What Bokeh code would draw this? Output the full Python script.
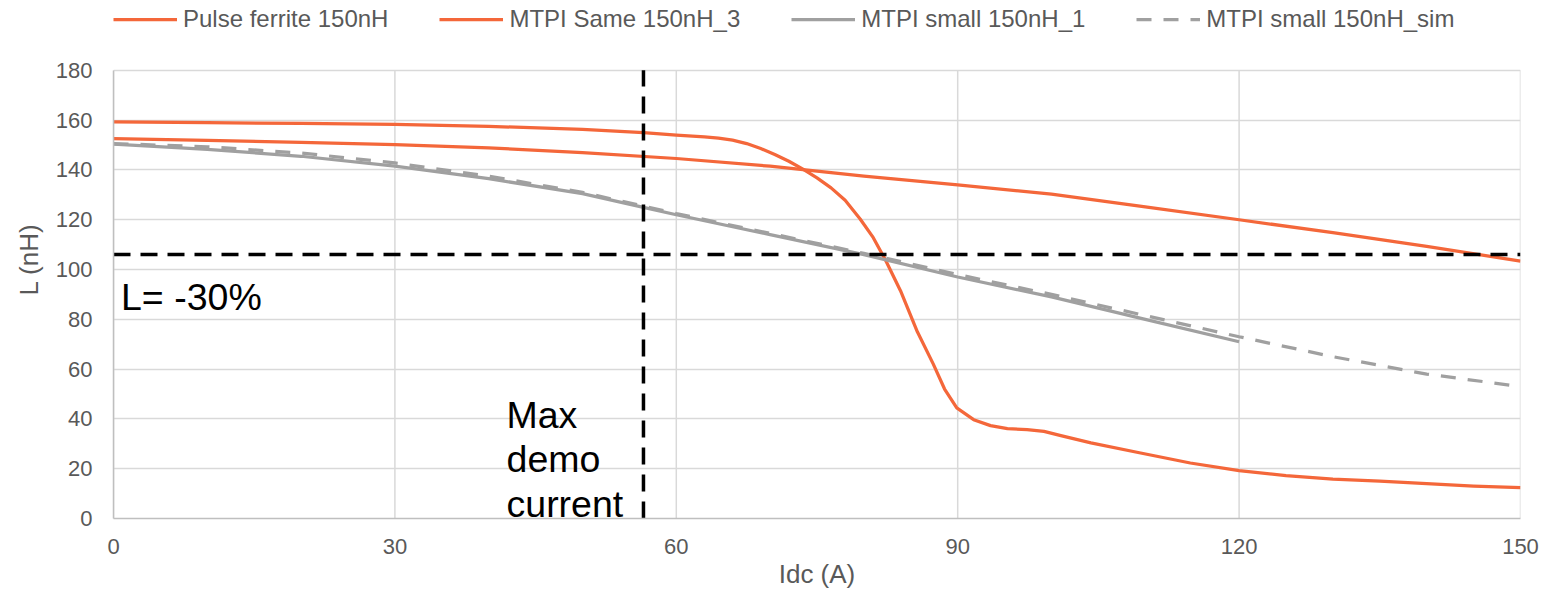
from bokeh.plotting import figure
from bokeh.models import Range1d, FixedTicker, Legend, LegendItem, Label
from bokeh.embed import file_html
from bokeh.resources import INLINE

# ---- data ----
pulse_x = [0, 10, 20, 30, 40, 50, 56.5, 60, 63, 64.5, 66, 67.5, 69, 70.5, 72, 73.5, 75, 76.5,
           78, 79.6, 81, 82.3, 83.9, 85.7, 87.4, 88.6, 89.9, 91.7, 93.5, 95.3, 97.4, 99.2,
           101, 104.2, 109.5, 114.8, 120, 125, 130, 135, 140, 145, 150]
pulse_y = [159.3, 159.0, 158.7, 158.3, 157.5, 156.3, 155.0, 154.0, 153.3, 152.8, 152.0, 150.6,
           148.6, 146.2, 143.5, 140.3, 136.8, 132.8, 127.8, 120.3, 112.8, 103.8, 91.5, 75.0,
           62.0, 52.0, 44.4, 39.7, 37.3, 36.1, 35.7, 35.0, 33.3, 30.4, 26.3, 22.3, 19.2, 17.2,
           15.8, 15.0, 14.0, 13.0, 12.4]

same_x = [0, 10, 20, 30, 40, 50, 60, 70, 80, 90, 100, 110, 120, 130, 140, 150]
same_y = [152.6, 151.9, 151.1, 150.2, 148.9, 147.0, 144.6, 141.5, 137.5, 134.0, 130.3,
          125.2, 120.0, 114.8, 109.3, 103.4]

small1_x = [0, 10, 20, 30, 40, 50, 56.5, 60, 70, 80, 90, 100, 110, 120]
small1_y = [150.4, 148.3, 145.5, 141.5, 136.5, 130.5, 125.0, 122.0, 114.0, 106.0, 97.0,
            89.0, 80.0, 71.0]

sim_x = [0, 10, 20, 30, 40, 50, 60, 70, 80, 90, 100, 110, 120, 130, 140, 150]
sim_y = [150.6, 149.3, 146.8, 142.8, 137.5, 131.0, 122.5, 114.5, 106.5, 98.0, 90.0, 81.5,
         73.0, 65.0, 58.0, 53.0]

demo_x = [56.5, 56.5]
demo_y = [0, 180]
limit_x = [0, 150]
limit_y = [106, 106]

x_ticks = [0, 30, 60, 90, 120, 150]
y_ticks = [0, 20, 40, 60, 80, 100, 120, 140, 160, 180]
Y_MIN, Y_MAX = 0, 180

ORANGE = "#F4673A"
GRAY = "#A0A0A0"
TXT = "#595959"
GRID = "#D9D9D9"
FONT = "Liberation Sans"

# plot area is 449 px tall for 0..180; the frame is extended upward to hold the legend
FRAME_H = 519
AREA_H = 449
y_top = Y_MAX * FRAME_H / AREA_H

p = figure(width=1557, height=591, output_backend="svg", toolbar_location=None, title=None,
           x_range=Range1d(0, 150), y_range=Range1d(Y_MIN, y_top),
           min_border_left=113, min_border_right=37, min_border_top=0, min_border_bottom=72)
p.outline_line_color = None
p.background_fill_color = "white"
p.border_fill_color = "white"

for ax in (p.xaxis[0], p.yaxis[0]):
    ax.major_tick_in = 0
    ax.major_tick_out = 0
    ax.minor_tick_in = 0
    ax.minor_tick_out = 0
    ax.axis_line_color = "#BFBFBF"
    ax.axis_line_width = 1.5
    ax.major_label_text_font = FONT
    ax.major_label_text_font_size = "22px"
    ax.major_label_text_color = TXT
    ax.axis_label_text_font = FONT
    ax.axis_label_text_font_size = "26px"
    ax.axis_label_text_font_style = "normal"
    ax.axis_label_text_color = TXT

p.xaxis.ticker = FixedTicker(ticks=x_ticks)
p.yaxis.ticker = FixedTicker(ticks=y_ticks)
p.yaxis.bounds = (Y_MIN, Y_MAX)
p.xaxis.axis_label = "Idc (A)"
p.yaxis.axis_label = "L (nH)"
p.xaxis.major_label_standoff = 20
p.xaxis.axis_label_standoff = 2
p.yaxis.major_label_standoff = 21
p.yaxis.axis_label_standoff = 9

p.ygrid.ticker = FixedTicker(ticks=y_ticks)
p.ygrid.grid_line_color = GRID
p.ygrid.grid_line_width = 1.5
p.xgrid.visible = False
# vertical grid lines, limited to the 0..180 area
p.segment(x0=x_ticks, y0=[Y_MIN] * len(x_ticks), x1=x_ticks, y1=[Y_MAX] * len(x_ticks),
          line_color=GRID, line_width=1.5, level="underlay")

r1 = p.line(pulse_x, pulse_y, line_color=ORANGE, line_width=3.25, line_join="round")
r2 = p.line(same_x, same_y, line_color=ORANGE, line_width=3.25, line_join="round")
r3 = p.line(small1_x, small1_y, line_color=GRAY, line_width=3.25, line_join="round")
r4 = p.line(sim_x, sim_y, line_color=GRAY, line_width=3.25, line_dash="15 12")

p.line(demo_x, demo_y, line_color="black", line_width=3.5, line_dash="17 10")
p.line(limit_x, limit_y, line_color="black", line_width=3.5, line_dash="17 10")

for txt, x, y in [("L= -30%", 0.8, 89.0), ("Max", 41.9, 41.7), ("demo", 41.9, 23.7),
                  ("current", 41.9, 6.0)]:
    p.add_layout(Label(x=x, y=y, text=txt, text_font=FONT, text_font_size="37.5px",
                       text_color="black", text_baseline="alphabetic", text_align="left"))

legend = Legend(items=[LegendItem(label="Pulse ferrite 150nH", renderers=[r1]),
                       LegendItem(label="MTPI Same 150nH_3", renderers=[r2]),
                       LegendItem(label="MTPI small 150nH_1", renderers=[r3]),
                       LegendItem(label="MTPI small 150nH_sim", renderers=[r4])],
                orientation="horizontal", location=(0, 485),
                glyph_width=64, glyph_height=28, label_height=28, label_standoff=6,
                spacing=51, padding=0, margin=0,
                label_text_font=FONT, label_text_font_size="24px", label_text_color=TXT,
                border_line_color=None, background_fill_alpha=0)
p.add_layout(legend, "center")

open("out.html", "w").write(file_html(p, INLINE))
